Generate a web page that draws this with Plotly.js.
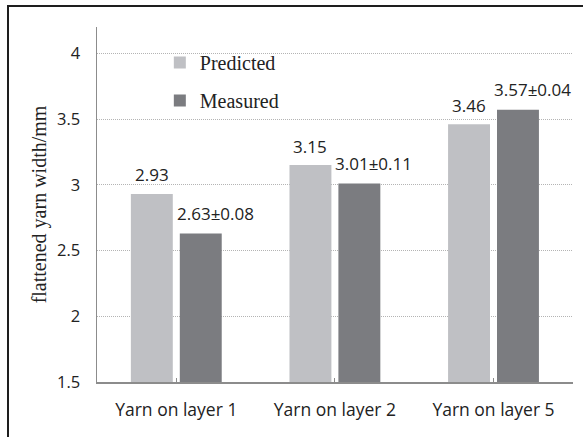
<!DOCTYPE html>
<html>
<head>
<meta charset="utf-8">
<script src="https://cdn.plot.ly/plotly-3.0.1.min.js"></script>
<style>
  html, body { margin: 0; padding: 0; background: #fff; }
  #chart { position: absolute; left: 0; top: 0; width: 587px; height: 437px; }
  #frame { position: absolute; left: 7px; top: 5px; width: 574px; height: 440px;
           border-top: 2px solid #1e1e1e; border-left: 2px solid #1e1e1e; pointer-events: none; }
</style>
</head>
<body>
<div id="chart"></div>
<div id="frame"></div>
<script>
// ---- data ----
const categories = ["Yarn on layer 1", "Yarn on layer 2", "Yarn on layer 5"];
const predicted = [2.93, 3.15, 3.46];
const measured = [2.63, 3.01, 3.57];
const measuredSD = [0.08, 0.11, 0.04];
const seriesNames = ["Predicted", "Measured"];
const yTickVals = [1.5, 2, 2.5, 3, 3.5, 4];
const yTickText = ["1.5", "2", "2.5", "3", "3.5", "4"];

const labelFont = { family: "Open Sans, sans-serif", size: 17, color: "#222" };

const traces = [
  {
    type: "bar", name: seriesNames[0], x: categories, y: predicted,
    marker: { color: "#bfc0c4" }, legendgroup: "p", hoverinfo: "none"
  },
  {
    type: "bar", name: seriesNames[1], x: categories, y: measured,
    marker: { color: "#7b7c80" }, legendgroup: "m", hoverinfo: "none"
  }
];

const annotations = [];
categories.forEach((c, i) => {
  annotations.push({
    x: c, y: predicted[i], xref: "x", yref: "y",
    text: predicted[i].toFixed(2), showarrow: false,
    xshift: -24.5, yshift: 19, yanchor: "middle", font: labelFont
  });
  annotations.push({
    x: c, y: measured[i], xref: "x", yref: "y",
    text: measured[i].toFixed(2) + "±" + measuredSD[i].toFixed(2), showarrow: false,
    xshift: 39, yshift: 20, yanchor: "middle", font: labelFont
  });
});

const layout = {
  width: 587, height: 437,
  margin: { l: 97, r: 14, t: 27, b: 55 },
  paper_bgcolor: "#fff", plot_bgcolor: "#fff",
  barmode: "group", bargap: 0.383, bargroupgap: 0.143,
  showlegend: true,
  legend: {
    x: 0.132, y: 0.955, xanchor: "left", yanchor: "top",
    bgcolor: "rgba(0,0,0,0)", tracegroupgap: 9,
    font: { family: "Liberation Serif, Times New Roman, serif", size: 20, color: "#222" }
  },
  xaxis: {
    type: "category",
    showline: true, linecolor: "#8c8c8c", linewidth: 1.5,
    ticks: "inside", ticklen: 4, tickcolor: "#8c8c8c",
    showgrid: false, zeroline: false,
    tickfont: { family: "Open Sans, sans-serif", size: 17.5, color: "#222" },
    ticklabelstandoff: 11
  },
  yaxis: {
    range: [1.5, 4.2],
    tickvals: yTickVals, ticktext: yTickText,
    showline: true, linecolor: "#8c8c8c", linewidth: 1.5,
    ticks: "", showgrid: true, gridcolor: "#b4b4b4", griddash: "1px,1px", gridwidth: 1,
    zeroline: false,
    tickfont: { family: "Open Sans, sans-serif", size: 16.5, color: "#222" },
    ticklabelstandoff: 12,
    title: {
      text: "flattened yarn width/mm",
      font: { family: "Liberation Serif, Times New Roman, serif", size: 20, color: "#222" },
      standoff: 5
    }
  },
  annotations: annotations
};

Plotly.newPlot("chart", traces, layout, { displayModeBar: false, staticPlot: true });
</script>
</body>
</html>
